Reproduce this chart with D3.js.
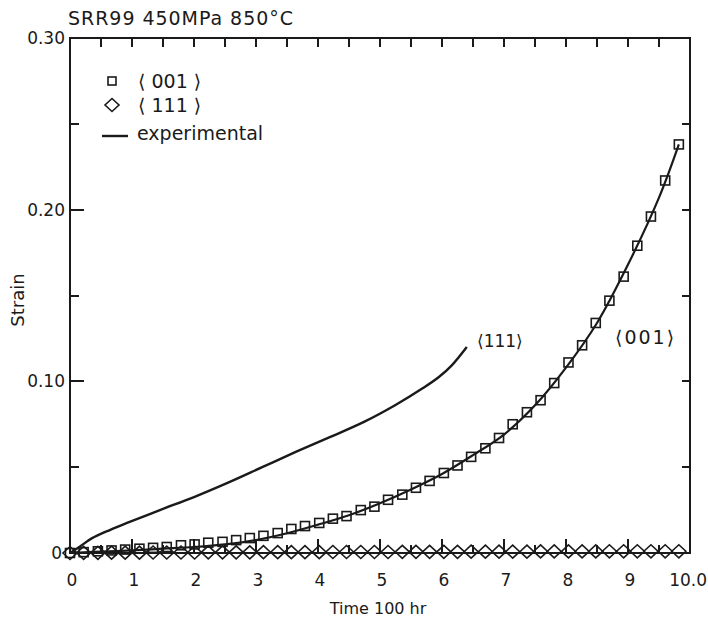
<!DOCTYPE html>
<html lang="en">
<head>
    <meta charset="UTF-8">
    <title>SRR99 creep strain</title>
    <script src="https://cdn.jsdelivr.net/npm/d3@7/dist/d3.min.js"></script>
    <style>
        body { margin: 0; background: #fff; }
        svg text { font-family: "DejaVu Sans", sans-serif; fill: #1a1a1a; }
    </style>
</head>
<body>
    <div id="chart"></div>

    <script>
        // time (100 hr) at each marker
        var markTime = [0.00,0.22,0.45,0.67,0.89,1.12,1.34,1.56,1.79,2.01,2.23,2.46,2.68,2.90,3.12,
            3.35,3.57,3.79,4.02,4.24,4.46,4.69,4.91,5.13,5.36,5.58,5.80,6.03,6.25,6.47,
            6.70,6.92,7.14,7.37,7.59,7.81,8.04,8.26,8.48,8.70,8.93,9.15,9.37,9.60,9.82];
        // <001> predicted strain (squares)
        var strain001 = [0.000,0.0005,0.001,0.0015,0.002,0.0025,0.003,0.0035,0.0045,0.005,0.006,0.0065,0.0075,0.0087,0.010,
            0.0116,0.014,0.0157,0.0175,0.020,0.0215,0.025,0.027,0.031,0.034,0.038,0.042,0.0466,0.051,0.056,
            0.061,0.067,0.075,0.082,0.089,0.099,0.111,0.121,0.134,0.147,0.161,0.179,0.196,0.217,0.238];
        // <111> predicted strain (diamonds)
        var strain111 = [0.0000,0.0001,0.0001,0.0002,0.0002,0.0002,0.0003,0.0003,0.0003,0.0003,0.0004,0.0004,0.0004,0.0004,0.0005,
            0.0005,0.0005,0.0005,0.0005,0.0006,0.0006,0.0006,0.0006,0.0006,0.0007,0.0007,0.0007,0.0007,0.0007,0.0008,
            0.0008,0.0008,0.0008,0.0008,0.0009,0.0009,0.0009,0.0009,0.0009,0.0010,0.0010,0.0010,0.0010,0.0010,0.0010];

        // experimental curves
        var exp001Time = [0,0.5,1,1.5,2,2.5,3,3.5,4,4.5,5,5.5,6,6.5,7,7.5,8,8.5,9,9.5,9.82];
        var exp001Strain = [0,0.0008,0.0015,0.0025,0.0035,0.005,0.0075,0.0115,0.0165,0.022,0.029,0.037,0.046,0.057,0.069,0.086,0.108,0.134,0.168,0.207,0.238];
        var exp111Time = [0,0.15,0.35,0.65,0.92,1.45,2.0,2.55,3.1,3.65,4.2,4.75,5.25,5.7,5.95,6.15,6.4];
        var exp111Strain = [0,0.0035,0.0085,0.0135,0.0175,0.025,0.0326,0.041,0.050,0.059,0.0676,0.0765,0.0862,0.0962,0.1025,0.109,0.120];

        // axis ticks
        var xMajor = [0,1,2,3,4,5,6,7,8,9,10];
        var xLabels = ["0","1","2","3","4","5","6","7","8","9","10.0"];
        var xHalf = [0.5,1.5,2.5,3.5,4.5,5.5,6.5,7.5,8.5,9.5];
        var yMajor = [0,0.1,0.2,0.3];
        var yLabels = ["0","0.10","0.20","0.30"];
        var yMinor = [0.05,0.15,0.25];

        var ink = "#1a1a1a";
        var svg = d3.select("#chart").append("svg")
            .attr("width", 708)
            .attr("height", 622);

        var x = d3.scaleLinear().domain([0, 10]).range([70, 690]);
        var y = d3.scaleLinear().domain([0, 0.3]).range([553, 38]);

        // frame
        svg.append("rect")
            .attr("x", x(0)).attr("y", y(0.3))
            .attr("width", x(10) - x(0)).attr("height", y(0) - y(0.3))
            .attr("fill", "none").attr("stroke", ink).attr("stroke-width", 2);

        // inward tick marks, drawn as thin filled bars
        function xTicks(vals, top, len) {
            svg.append("g").selectAll("rect")
                .data(vals)
                .enter().append("rect")
                .attr("x", function(d) { return Math.round(x(d)) - 1; })
                .attr("y", top)
                .attr("width", 2).attr("height", len)
                .attr("fill", ink);
        }
        function yTicks(vals, left, len) {
            svg.append("g").selectAll("rect")
                .data(vals)
                .enter().append("rect")
                .attr("y", function(d) { return Math.round(y(d)) - 1; })
                .attr("x", left)
                .attr("height", 2).attr("width", len)
                .attr("fill", ink);
        }
        xTicks(xMajor.slice(1, 10), y(0) - 14, 14);
        xTicks(xHalf, y(0) - 8, 8);
        xTicks(xMajor.slice(1, 10).concat(xHalf), y(0.3), 9);
        yTicks(yMajor.slice(1, 3), x(0), 14);
        yTicks(yMinor, x(0), 9);
        yTicks(yMinor.concat(yMajor.slice(1, 3)), x(10) - 8, 8);

        svg.append("g").selectAll("text")
            .data(xMajor)
            .enter().append("text")
            .attr("x", function(d, i) { return i == 10 ? 707 : x(d) + 2; })
            .attr("y", 586)
            .attr("text-anchor", function(d, i) { return i == 10 ? "end" : "middle"; })
            .attr("font-size", 17)
            .text(function(d, i) { return xLabels[i]; });

        svg.append("g").selectAll("text")
            .data(yMajor)
            .enter().append("text")
            .attr("x", function(d) { return d == 0 ? 62 : 65; })
            .attr("y", function(d) { return y(d) + 6; })
            .attr("text-anchor", "end")
            .attr("font-size", 17)
            .text(function(d, i) { return yLabels[i]; });

        // curves
        var line = d3.line()
            .x(function(d) { return x(d[0]); })
            .y(function(d) { return y(d[1]); })
            .curve(d3.curveCatmullRom.alpha(0.5));

        svg.append("path")
            .datum(d3.zip(exp001Time, exp001Strain))
            .attr("d", line)
            .attr("fill", "none").attr("stroke", ink).attr("stroke-width", 2.2);
        svg.append("path")
            .datum(d3.zip(exp111Time, exp111Strain))
            .attr("d", line)
            .attr("fill", "none").attr("stroke", ink).attr("stroke-width", 2.4);

        // markers
        var sq = 9;
        svg.append("g").selectAll("rect")
            .data(d3.zip(markTime, strain001))
            .enter().append("rect")
            .attr("x", function(d) { return x(d[0]) - sq / 2; })
            .attr("y", function(d) { return y(d[1]) - sq / 2; })
            .attr("width", sq).attr("height", sq)
            .attr("fill", "none").attr("stroke", ink).attr("stroke-width", 1.6);

        var diamond = "M0,-6.5L7,0L0,6.5L-7,0Z";
        svg.append("g").selectAll("path")
            .data(d3.zip(markTime, strain111))
            .enter().append("path")
            .attr("transform", function(d) { return "translate(" + x(d[0]) + "," + y(d[1]) + ")"; })
            .attr("d", diamond)
            .attr("fill", "none").attr("stroke", ink).attr("stroke-width", 1.6);

        // legend
        svg.append("rect").attr("x", 108).attr("y", 77).attr("width", 8).attr("height", 8)
            .attr("fill", "none").attr("stroke", ink).attr("stroke-width", 1.6);
        svg.append("text").attr("x", 138).attr("y", 88).attr("font-size", 19).text("⟨ 001 ⟩");
        svg.append("path").attr("transform", "translate(112,105)").attr("d", diamond)
            .attr("fill", "none").attr("stroke", ink).attr("stroke-width", 1.6);
        svg.append("text").attr("x", 138).attr("y", 112).attr("font-size", 19).text("⟨ 111 ⟩");
        svg.append("line").attr("x1", 102).attr("x2", 128).attr("y1", 136).attr("y2", 136)
            .attr("stroke", ink).attr("stroke-width", 2.4);
        svg.append("text").attr("x", 137).attr("y", 140).attr("font-size", 19).text("experimental");

        // curve labels
        svg.append("text").attr("x", 477).attr("y", 347).attr("font-size", 17).text("⟨111⟩");
        svg.append("text").attr("x", 615).attr("y", 344).attr("font-size", 19)
            .attr("letter-spacing", 2).text("⟨001⟩");

        // title and axis titles
        svg.append("text").attr("x", 68).attr("y", 25).attr("font-size", 19)
            .attr("textLength", 225).text("SRR99 450MPa 850°C");
        svg.append("text").attr("x", 378).attr("y", 614).attr("font-size", 16)
            .attr("text-anchor", "middle").text("Time 100 hr");
        svg.append("text")
            .attr("transform", "translate(24,300) rotate(-90)")
            .attr("text-anchor", "middle").attr("font-size", 18)
            .text("Strain");
    </script>
</body>
</html>
